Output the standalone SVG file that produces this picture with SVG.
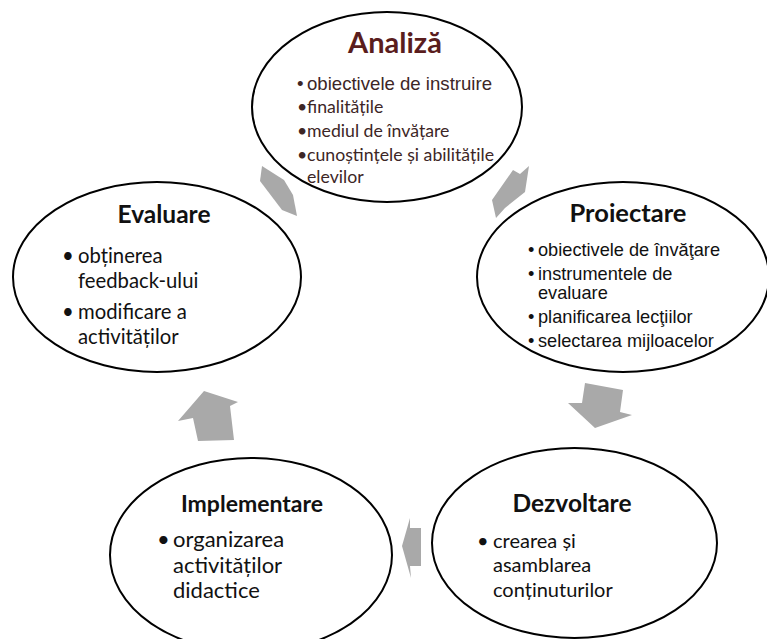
<svg xmlns="http://www.w3.org/2000/svg" width="767" height="639" viewBox="0 0 767 639">
<style>
.arrow{fill:#a9a9a9;stroke:none}
.node ellipse{fill:#fff;stroke:#000;stroke-width:2}
.title{font-family:Lato,"Liberation Sans",sans-serif;font-weight:bold;text-anchor:middle;fill:#111}
.b{font-family:Lato,"Liberation Sans",sans-serif;fill:#111}
.a{font-family:"Liberation Sans",Arial,sans-serif;fill:#111}
.br{fill:#3d2626}
</style>
<rect width="767" height="639" fill="#fff"/>
<g id="connectors">
<path class="arrow" d="M262,166 L284,180 L293,195 L297,216 L282,210 L260,181 Z"/>
<path class="arrow" d="M513,170 L520,174 L529,166 L525,192 L505,208 L496,218 L492,200 Z"/>
<path class="arrow" d="M585,383 L623,390 L620,412 L632,415 L595,428 L568,403 L582,403 Z"/>
<path class="arrow" d="M402,546 L410,518 L410,528 L421,528 L421,566 L410,566 L411,578 Z"/>
<path class="arrow" d="M204,391 L238,402 L230,406 L234,440 L198,441 L193,418 L178,421 Z"/>
</g>
<g id="analiza" class="node">
<ellipse cx="387" cy="107" rx="135" ry="95"/>
<text class="title" x="395" y="53" font-size="29" style="fill:#5a1d1d">Analiză</text>
<text class="a br" x="297" y="90" font-size="18.6">•</text><text class="a br" x="307" y="90" font-size="18.6">obiectivele de instruire</text>
<g font-size="17.7">
<text class="b br" x="297" y="113">•</text><text class="b br" x="307" y="113">finalitățile</text>
<text class="b br" x="297" y="137">•</text><text class="b br" x="307" y="137">mediul de învățare</text>
<text class="b br" x="297" y="161">•</text><text class="b br" x="307" y="161">cunoștințele și abilitățile</text>
<text class="b br" x="307" y="183">elevilor</text>
</g>
</g>
<g id="proiectare" class="node">
<ellipse cx="623" cy="277" rx="146" ry="95"/>
<text class="title" x="628" y="222" font-size="25.5">Proiectare</text>
<g font-size="18.2">
<text class="a" x="528" y="256">•</text><text class="a" x="538" y="256">obiectivele de învăţare</text>
<text class="a" x="528" y="280">•</text><text class="a" x="538" y="280">instrumentele de</text>
<text class="a" x="538" y="299">evaluare</text>
<text class="a" x="528" y="323">•</text><text class="a" x="538" y="323">planificarea lecţiilor</text>
<text class="a" x="528" y="347">•</text><text class="a" x="538" y="347">selectarea mijloacelor</text>
</g>
</g>
<g id="evaluare" class="node">
<ellipse cx="157" cy="277" rx="144" ry="95"/>
<text class="title" x="164" y="223" font-size="24.5">Evaluare</text>
<g font-size="20.3">
<text class="b" x="62" y="263">•</text><text class="b" x="78" y="263">obținerea</text>
<text class="b" x="78" y="288">feedback-ului</text>
<text class="b" x="62" y="319">•</text><text class="b" x="78" y="319">modificare a</text>
<text class="b" x="78" y="344">activităților</text>
</g>
</g>
<g id="implementare" class="node">
<ellipse cx="251" cy="555" rx="141" ry="97"/>
<text class="title" x="252" y="512" font-size="23">Implementare</text>
<g font-size="22">
<text class="b" x="157" y="547">•</text><text class="b" x="173" y="547">organizarea</text>
<text class="b" x="173" y="573">activităților</text>
<text class="b" x="173" y="598">didactice</text>
</g>
</g>
<g id="dezvoltare" class="node">
<ellipse cx="574.5" cy="543" rx="142.5" ry="95"/>
<text class="title" x="572" y="512" font-size="24.5">Dezvoltare</text>
<g font-size="20">
<text class="b" x="477" y="548">•</text><text class="b" x="493" y="548">crearea și</text>
<text class="b" x="493" y="572">asamblarea</text>
<text class="b" x="493" y="597">conținuturilor</text>
</g>
</g>
</svg>
